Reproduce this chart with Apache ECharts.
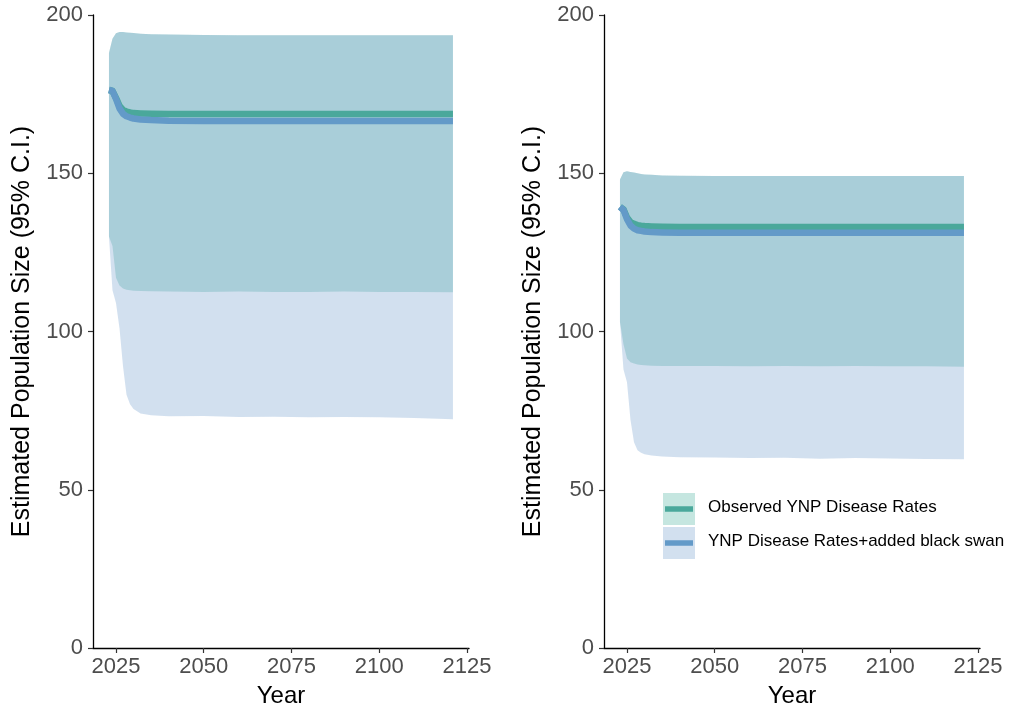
<!DOCTYPE html>
<html>
<head>
<meta charset="utf-8">
<script src="https://cdn.jsdelivr.net/npm/echarts@6/dist/echarts.min.js"></script>
<style>
  html, body { margin: 0; padding: 0; background: #ffffff; }
  #chart { width: 1018px; height: 708px; }
</style>
</head>
<body>
<div id="chart"></div>
<script>
// Projection years (sparse checkpoints; the library joins them with straight segments)
const years = [2023, 2024, 2025, 2026, 2027, 2028, 2029, 2030, 2032, 2035, 2040, 2050, 2060, 2070, 2080, 2090, 2100, 2110, 2121];

// Left panel
const obsMeanL   = [176.3, 176.0, 173.8, 171.3, 170.0, 169.5, 169.2, 169.0, 168.9, 168.8, 168.7, 168.7, 168.7, 168.7, 168.7, 168.7, 168.7, 168.7, 168.7];
const swanMeanL  = [176.3, 176.0, 173.5, 170.5, 168.8, 168.0, 167.6, 167.3, 167.0, 166.8, 166.6, 166.5, 166.5, 166.5, 166.5, 166.5, 166.5, 166.5, 166.5];
const obsUpperL  = [188.0, 192.5, 194.2, 194.6, 194.6, 194.5, 194.4, 194.3, 194.1, 193.9, 193.8, 193.7, 193.6, 193.6, 193.6, 193.6, 193.6, 193.6, 193.6];
const obsLowerL  = [130.0, 127.0, 117.0, 114.5, 113.6, 113.2, 113.0, 112.9, 112.8, 112.7, 112.6, 112.5, 112.6, 112.5, 112.5, 112.6, 112.5, 112.5, 112.4];
const swanUpperL = [188.0, 192.5, 194.2, 194.6, 194.6, 194.5, 194.4, 194.3, 194.1, 193.9, 193.8, 193.7, 193.6, 193.6, 193.6, 193.6, 193.6, 193.6, 193.6];
const swanLowerL = [130.0, 113.0, 109.0, 101.0, 89.0, 80.0, 77.0, 75.5, 74.1, 73.5, 73.2, 73.3, 73.0, 73.1, 72.9, 73.0, 72.9, 72.7, 72.3];

// Right panel
const obsMeanR   = [139.4, 138.6, 136.0, 134.6, 134.0, 133.6, 133.4, 133.3, 133.2, 133.1, 133.0, 133.0, 133.0, 133.0, 133.0, 133.0, 133.0, 133.0, 133.0];
const swanMeanR  = [139.4, 138.4, 135.5, 133.5, 132.5, 132.0, 131.8, 131.6, 131.4, 131.3, 131.2, 131.2, 131.2, 131.2, 131.2, 131.2, 131.2, 131.2, 131.2];
const obsUpperR  = [148.0, 150.3, 150.6, 150.4, 150.2, 150.0, 149.8, 149.6, 149.5, 149.3, 149.2, 149.1, 149.1, 149.1, 149.1, 149.1, 149.1, 149.1, 149.1];
const obsLowerR  = [103.0, 96.0, 91.5, 90.3, 89.9, 89.6, 89.4, 89.3, 89.2, 89.1, 89.1, 89.1, 89.0, 89.1, 89.0, 89.1, 89.0, 89.0, 88.9];
const swanUpperR = [148.0, 150.3, 150.6, 150.4, 150.2, 150.0, 149.8, 149.6, 149.5, 149.3, 149.2, 149.1, 149.1, 149.1, 149.1, 149.1, 149.1, 149.1, 149.1];
const swanLowerR = [103.0, 88.0, 84.0, 72.0, 65.0, 62.5, 61.7, 61.2, 60.8, 60.5, 60.3, 60.2, 60.0, 60.1, 59.8, 60.0, 59.9, 59.7, 59.6];

// Axis ticks and labels
const xTicks = [2025, 2050, 2075, 2100, 2125];
const legendLabels = ['Observed YNP Disease Rates', 'YNP Disease Rates+added black swan'];

const FONT = '"Liberation Sans", Arial, sans-serif';
const GREEN_FILL = 'rgba(62,172,152,0.3)';
const BLUE_FILL = 'rgba(105,152,202,0.3)';
const GREEN_LINE = '#4aa89b';
const BLUE_LINE = '#639ac8';

function zipLine(ys) { return years.map((y, i) => [y, ys[i]]); }
function zipBand(lo, hi) { return years.map((y, i) => [y, lo[i], hi[i]]); }

// Ribbon drawn as one polygon: upper edge forward, lower edge back
function bandRenderer(fill) {
  return function (params, api) {
    if (params.dataIndexInside !== 0) return { type: 'group', children: [] };
    const n = params.dataInsideLength;
    const top = [], bottom = [];
    for (let i = 0; i < n; i++) {
      const x = api.value(0, i);
      top.push(api.coord([x, api.value(2, i)]));
      bottom.push(api.coord([x, api.value(1, i)]));
    }
    return {
      type: 'polygon',
      shape: { points: top.concat(bottom.reverse()) },
      style: { fill: fill, stroke: null }
    };
  };
}

function band(idx, lo, hi, fill) {
  return {
    type: 'custom', xAxisIndex: idx, yAxisIndex: idx,
    data: zipBand(lo, hi), encode: { x: 0, y: [1, 2] },
    renderItem: bandRenderer(fill), silent: true, z: 1
  };
}
function meanLine(idx, ys, color) {
  return {
    type: 'line', xAxisIndex: idx, yAxisIndex: idx,
    data: zipLine(ys), showSymbol: false, symbol: 'none', silent: true, z: 3,
    lineStyle: { color: color, width: 6.5, cap: 'butt', join: 'round' }
  };
}

const gridL = 93, gridR = 604, gridW = 376;

function xAxisDef(idx) {
  return {
    type: 'value', gridIndex: idx, min: 2018.45, max: 2125.57,
    name: 'Year', nameLocation: 'middle', nameGap: 36,
    nameTextStyle: { color: '#000', fontSize: 24, fontFamily: FONT },
    axisLine: { lineStyle: { color: '#000', width: 1.3 } },
    axisTick: { customValues: xTicks, length: 5, lineStyle: { color: '#333', width: 1.2 } },
    axisLabel: { customValues: xTicks, formatter: v => String(v), color: '#4d4d4d', fontSize: 22, fontFamily: FONT, margin: 8 },
    splitLine: { show: false }
  };
}
function yAxisDef(idx) {
  return {
    type: 'value', gridIndex: idx, min: 0, max: 200, interval: 50,
    name: 'Estimated Population Size (95% C.I.)', nameLocation: 'middle', nameGap: 58,
    nameTextStyle: { color: '#000', fontSize: 25, fontFamily: FONT },
    axisLine: { show: true, lineStyle: { color: '#000', width: 1.3 } },
    axisTick: { show: true, length: 5, lineStyle: { color: '#333', width: 1.2 } },
    axisLabel: { color: '#4d4d4d', fontSize: 22, fontFamily: FONT, margin: 10 },
    splitLine: { show: false }
  };
}

// Legend keys drawn inside the right panel
const legendX = 663, keyW = 32;
const legendRows = [
  { y: 493, h: 32, fill: GREEN_FILL, line: GREEN_LINE, text: legendLabels[0] },
  { y: 527, h: 32, fill: BLUE_FILL, line: BLUE_LINE, text: legendLabels[1] }
];
const legendGraphics = [];
legendRows.forEach(r => {
  legendGraphics.push({ type: 'rect', left: legendX, top: r.y, shape: { width: keyW, height: r.h }, style: { fill: r.fill }, silent: true });
  legendGraphics.push({ type: 'line', shape: { x1: legendX + 2, y1: r.y + r.h / 2, x2: legendX + keyW - 2, y2: r.y + r.h / 2 }, style: { stroke: r.line, lineWidth: 5.5 }, silent: true });
  legendGraphics.push({ type: 'text', left: legendX + 45, top: r.y + r.h / 2 - 10, style: { text: r.text, fill: '#000', font: '17px ' + FONT, textVerticalAlign: 'top' }, silent: true });
});

const chart = echarts.init(document.getElementById('chart'), null, { renderer: 'canvas' });
chart.setOption({
  animation: false,
  backgroundColor: '#ffffff',
  grid: [
    { left: gridL, top: 15, width: gridW, height: 633, outerBoundsMode: 'none' },
    { left: gridR, top: 15, width: gridW, height: 633, outerBoundsMode: 'none' }
  ],
  xAxis: [xAxisDef(0), xAxisDef(1)],
  yAxis: [yAxisDef(0), yAxisDef(1)],
  series: [
    band(0, obsLowerL, obsUpperL, GREEN_FILL),
    band(0, swanLowerL, swanUpperL, BLUE_FILL),
    meanLine(0, obsMeanL, GREEN_LINE),
    meanLine(0, swanMeanL, BLUE_LINE),
    band(1, obsLowerR, obsUpperR, GREEN_FILL),
    band(1, swanLowerR, swanUpperR, BLUE_FILL),
    meanLine(1, obsMeanR, GREEN_LINE),
    meanLine(1, swanMeanR, BLUE_LINE)
  ],
  graphic: legendGraphics
});
</script>
</body>
</html>
